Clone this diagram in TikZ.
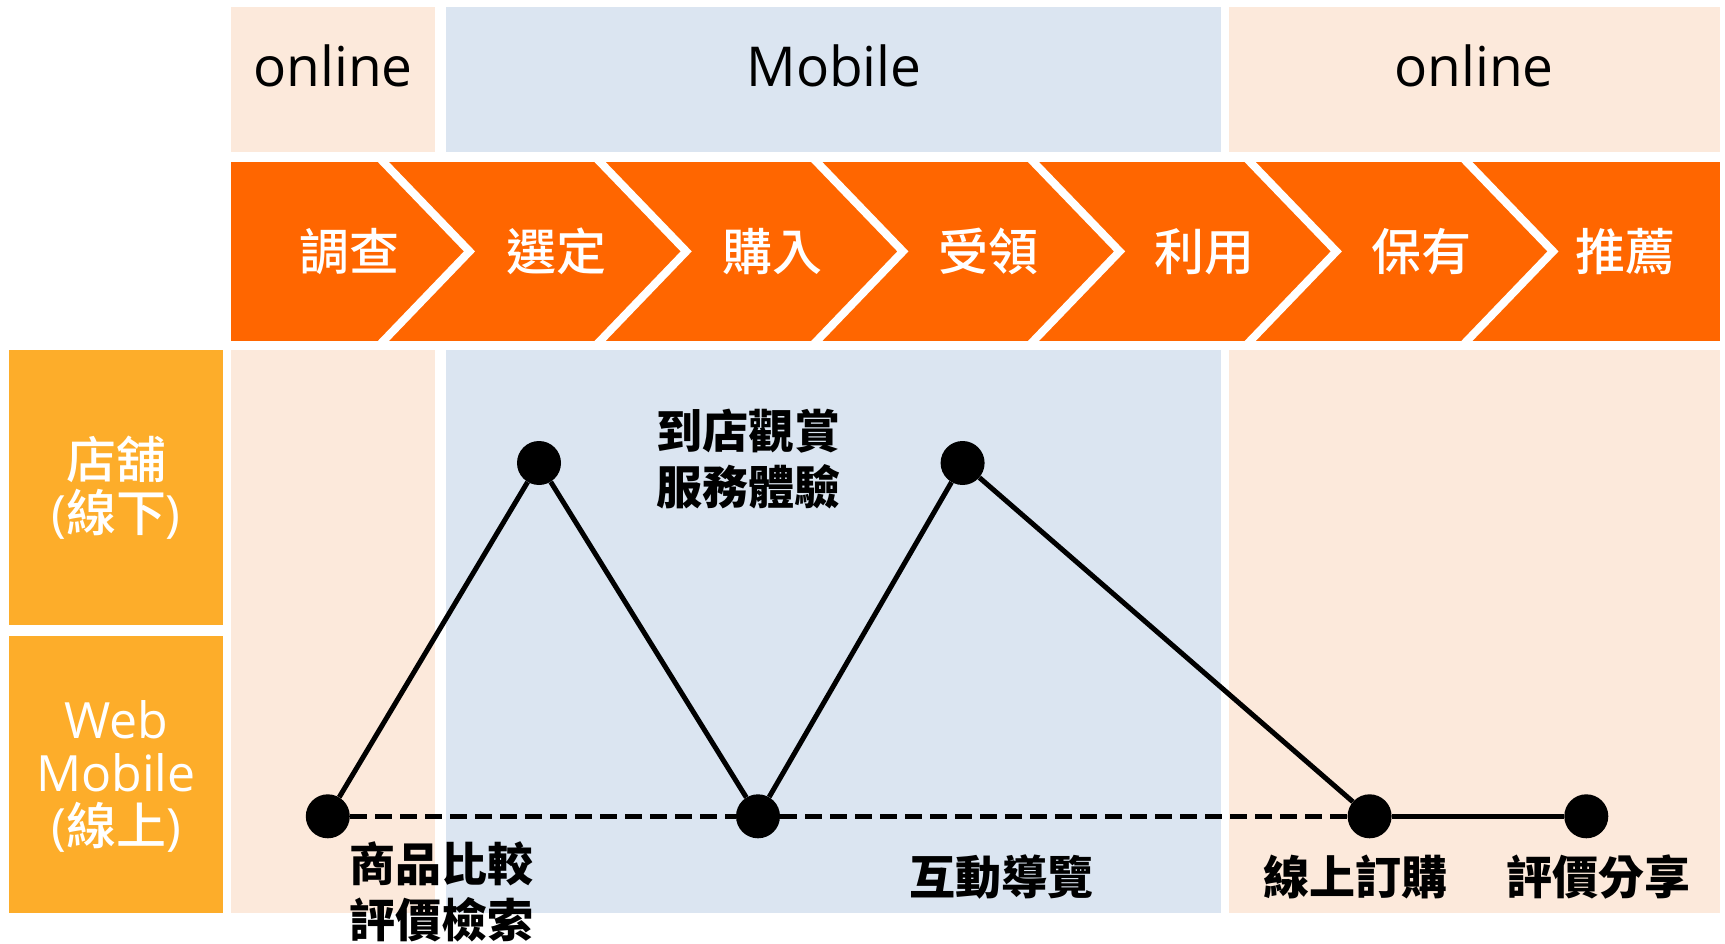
\documentclass[tikz,border=0pt]{standalone}
\usepackage{fontspec}
\setmainfont{Open Sans}
\newfontfamily\cjk{Noto Sans CJK TC}
\newfontfamily\cjkm{Noto Sans CJK TC Medium}
\definecolor{peach}{RGB}{252,233,219}
\definecolor{paleblue}{RGB}{219,229,241}
\definecolor{deeporange}{RGB}{255,102,0}
\definecolor{amber}{RGB}{253,173,42}
\tikzset{
  band/.style={inner sep=0pt, outer sep=0pt},
  dot/.style={circle, fill=black, minimum size=44pt, inner sep=0pt},
  conn/.style={line width=5pt, black},
  dashconn/.style={line width=5pt, black, dash pattern=on 17pt off 8pt},
  sep/.style={white, line width=8pt, line join=miter},
  steptext/.style={text=white, font=\cjkm\fontsize{50}{60}\selectfont},
  headtext/.style={font=\fontsize{55}{66}\selectfont},
  sidetext/.style={text=white, align=center, font=\fontsize{50}{53}\selectfont},
  lbl/.style={font=\cjk\bfseries\fontsize{46}{56}\selectfont, align=center}
}
\begin{document}
\begin{tikzpicture}[x=1pt,y=-1pt]
\useasboundingbox (0,0) rectangle (1725,944);
% top header band
\fill[peach] (231,6.6) rectangle (434.5,151.8);
\fill[paleblue] (445.5,6.6) rectangle (1221,151.8);
\fill[peach] (1228.8,6.6) rectangle (1719.5,151.8);
\node[headtext] (h1) at (333,66) {online};
\node[headtext] (h2) at (834,66) {Mobile};
\node[headtext] (h3) at (1474,66) {online};
% orange process band
\fill[deeporange] (231,161.7) rectangle (1719.5,341);
\foreach \x in {379.5,596.2,812.9,1029.6,1246.3,1463} {
  \draw[sep] (\x,158) -- ({\x+90},251.4) -- (\x,345);
}
\node[steptext] (s1) at (349,251.4) {調查};
\node[steptext] (s2) at (556,251.4) {選定};
\node[steptext] (s3) at (772,251.4) {購入};
\node[steptext] (s4) at (988,251.4) {受領};
\node[steptext] (s5) at (1204,251.4) {利用};
\node[steptext] (s6) at (1421,251.4) {保有};
\node[steptext] (s7) at (1625,251.4) {推薦};
% lower bands
\fill[peach] (231,349.8) rectangle (434.5,913);
\fill[paleblue] (445.5,349.8) rectangle (1221,913);
\fill[peach] (1228.8,349.8) rectangle (1719.5,913);
% side labels
\fill[amber] (8.8,349.8) rectangle (223.3,624.9);
\fill[amber] (8.8,635.9) rectangle (223.3,913);
\node[sidetext] (l1) at (116,488) {{\cjkm 店舖}\\(\cjkm 線下\rmfamily)};
\node[sidetext] (l2) at (116,776) {Web\\Mobile\\(\cjkm 線上\rmfamily)};
% dots
\node[dot] (d1) at (327.8,816.3) {};
\node[dot] (d2) at (539,463) {};
\node[dot] (d3) at (758,816.3) {};
\node[dot] (d4) at (962.6,463) {};
\node[dot] (d5) at (1369.6,816.3) {};
\node[dot] (d6) at (1586.3,816.3) {};
% connectors
\draw[dashconn] (d1) -- (d3);
\draw[dashconn] (d3) -- (d5);
\draw[conn] (d1) -- (d2);
\draw[conn] (d2) -- (d3);
\draw[conn] (d3) -- (d4);
\draw[conn] (d4) -- (d5);
\draw[conn] (d5) -- (d6);
% labels
\node[lbl, anchor=west] (t1) at (346,892) {商品比較\\評價檢索};
\node[lbl] (t2) at (748,459) {到店觀賞\\服務體驗};
\node[lbl] (t3) at (1001,877) {互動導覽};
\node[lbl] (t4) at (1355,877) {線上訂購};
\node[lbl] (t5) at (1598,877) {評價分享};
\end{tikzpicture}
\end{document}
